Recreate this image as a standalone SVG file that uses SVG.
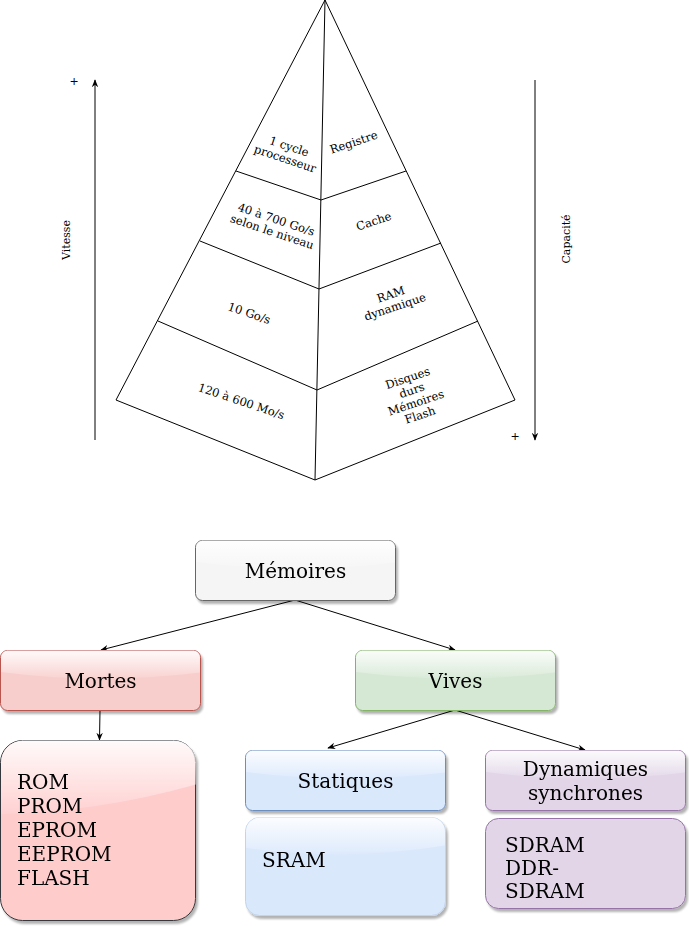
<svg xmlns="http://www.w3.org/2000/svg" width="689" height="926" viewBox="0 0 689 926">
<defs>
  <linearGradient id="glass" x1="0" y1="0" x2="0" y2="1">
    <stop offset="0" stop-color="#fff" stop-opacity="0.9"/>
    <stop offset="1" stop-color="#fff" stop-opacity="0.1"/>
  </linearGradient>
  <filter id="shadow" x="-10%" y="-10%" width="130%" height="130%">
    <feGaussianBlur in="SourceAlpha" stdDeviation="1.2"/>
    <feOffset dx="2" dy="3" result="b"/>
    <feComponentTransfer><feFuncA type="linear" slope="0.3"/></feComponentTransfer>
    <feMerge><feMergeNode/><feMergeNode in="SourceGraphic"/></feMerge>
  </filter>
  <marker id="arr" viewBox="0 0 10 10" refX="9" refY="5" markerWidth="8" markerHeight="8" orient="auto" markerUnits="userSpaceOnUse">
    <path d="M0,1 L10,5 L0,9 L3,5 Z" fill="#000"/>
  </marker>
</defs>
<style>
  .pl { fill: none; stroke: #000; stroke-width: 1; }
  .pt { font-family: "DejaVu Serif", serif; font-size: 11.5px; fill: #000; text-anchor: middle; }
  .st { font-family: "DejaVu Serif", serif; font-size: 11px; fill: #000; text-anchor: middle; }
  .nt { font-family: "DejaVu Serif", serif; font-size: 20px; fill: #000; text-anchor: middle; }
  .lt { font-family: "DejaVu Serif", serif; font-size: 20px; fill: #000; }
  .conn { fill: none; stroke: #000; stroke-width: 1; marker-end: url(#arr); }
</style>

<g id="pyramid">
  <path class="pl" d="M325,0 L116,400 L315,480 L515,400 Z"/>
  <path class="pl" d="M325,0 L315,480"/>
  <path class="pl" d="M236,171 L321,200 L406,171"/>
  <path class="pl" d="M200,241 L319,289 L441,243"/>
  <path class="pl" d="M158,321 L317,390 L478,321"/>
  <g transform="translate(287,153) rotate(18.5)">
    <text class="pt" x="0" y="-3">1 cycle</text>
    <text class="pt" x="0" y="10">processeur</text>
  </g>
  <text class="pt" transform="translate(355,146) rotate(-18.5)">Registre</text>
  <g transform="translate(274,226) rotate(18.5)">
    <text class="pt" x="0" y="-3">40 à 700 Go/s</text>
    <text class="pt" x="0" y="10">selon le niveau</text>
  </g>
  <text class="pt" transform="translate(375,225) rotate(-18.5)">Cache</text>
  <text class="pt" transform="translate(248,317) rotate(18.5)">10 Go/s</text>
  <g transform="translate(393,301) rotate(-18.5)">
    <text class="pt" x="0" y="-3">RAM</text>
    <text class="pt" x="0" y="10">dynamique</text>
  </g>
  <text class="pt" transform="translate(240,405) rotate(18.5)">120 à 600 Mo/s</text>
  <g transform="translate(414,397) rotate(-18.5)">
    <text class="pt" x="0" y="-16">Disques</text>
    <text class="pt" x="0" y="-3">durs</text>
    <text class="pt" x="0" y="10">Mémoires</text>
    <text class="pt" x="0" y="23">Flash</text>
  </g>
</g>

<g id="axes">
  <line class="conn" x1="95" y1="440" x2="95" y2="80"/>
  <line class="conn" x1="535" y1="80" x2="535" y2="440"/>
  <text class="st" x="74" y="85">+</text>
  <text class="st" x="515" y="440">+</text>
  <text class="st" transform="translate(70,240) rotate(-90)">Vitesse</text>
  <text class="st" transform="translate(570,239) rotate(-90)">Capacité</text>
</g>

<g id="connectors">
  <line class="conn" x1="295" y1="600" x2="101" y2="650"/>
  <line class="conn" x1="295" y1="600" x2="455" y2="650"/>
  <line class="conn" x1="100" y1="710" x2="99.5" y2="740"/>
  <line class="conn" x1="455" y1="710" x2="328" y2="748"/>
  <line class="conn" x1="455" y1="710" x2="585" y2="750"/>
</g>

<g id="memoires" filter="url(#shadow)">
  <rect x="195.5" y="540.5" width="200" height="60" rx="7" fill="#f5f5f5" stroke="#666666"/>
  <path d="M196,547.5 a7,7 0 0 1 7,-7 h185 a7,7 0 0 1 7,7 v15 Q295,575 196,562 Z" fill="url(#glass)"/>
  <text class="nt" x="295.5" y="578">Mémoires</text>
</g>

<g id="mortes" filter="url(#shadow)">
  <rect x="0.5" y="650.5" width="200" height="60" rx="7" fill="#f8cecc" stroke="#b85450"/>
  <path d="M1,657.5 a7,7 0 0 1 7,-7 h185 a7,7 0 0 1 7,7 v15 Q100,685 1,672 Z" fill="url(#glass)"/>
  <text class="nt" x="100.5" y="688">Mortes</text>
</g>

<g id="vives" filter="url(#shadow)">
  <rect x="355.5" y="650.5" width="200" height="60" rx="7" fill="#d5e8d4" stroke="#82b366"/>
  <path d="M356,657.5 a7,7 0 0 1 7,-7 h185 a7,7 0 0 1 7,7 v15 Q455,685 356,672 Z" fill="url(#glass)"/>
  <text class="nt" x="455.5" y="688">Vives</text>
</g>

<g id="rom" filter="url(#shadow)">
  <rect x="0.5" y="740.5" width="195" height="180" rx="22" fill="#ffcccc" stroke="#36393d"/>
  <path d="M1,762.5 a22,22 0 0 1 22,-22 h151 a22,22 0 0 1 22,22 v22 Q98,812 1,814 Z" fill="url(#glass)"/>
  <text class="lt" x="17" y="789">ROM</text>
  <text class="lt" x="17" y="813">PROM</text>
  <text class="lt" x="17" y="837">EPROM</text>
  <text class="lt" x="17" y="861">EEPROM</text>
  <text class="lt" x="17" y="885">FLASH</text>
</g>

<g id="statiques" filter="url(#shadow)">
  <rect x="245.5" y="750.5" width="200" height="60" rx="7" fill="#dae8fc" stroke="#6c8ebf"/>
  <path d="M246,757.5 a7,7 0 0 1 7,-7 h185 a7,7 0 0 1 7,7 v15 Q345,785 246,772 Z" fill="url(#glass)"/>
  <text class="nt" x="345.5" y="788">Statiques</text>
</g>

<g id="sram" filter="url(#shadow)">
  <rect x="245.5" y="817.5" width="200" height="98" rx="14" fill="#dae8fc" stroke="#c3d3ea"/>
  <path d="M246,831.5 a14,14 0 0 1 14,-14 h171 a14,14 0 0 1 14,14 v14 Q345,862 246,848 Z" fill="url(#glass)"/>
  <text class="lt" x="262" y="867">SRAM</text>
</g>

<g id="dynamiques" filter="url(#shadow)">
  <rect x="485.5" y="750.5" width="200" height="60" rx="7" fill="#e1d5e7" stroke="#9673a6"/>
  <path d="M486,757.5 a7,7 0 0 1 7,-7 h185 a7,7 0 0 1 7,7 v15 Q585,785 486,772 Z" fill="url(#glass)"/>
  <text class="nt" x="585.5" y="776">Dynamiques</text>
  <text class="nt" x="585.5" y="800">synchrones</text>
</g>

<g id="sdram" filter="url(#shadow)">
  <rect x="485.5" y="818.5" width="200" height="90" rx="13" fill="#e1d5e7" stroke="#9673a6"/>
  <text class="lt" x="505" y="852">SDRAM</text>
  <text class="lt" x="505" y="875">DDR-</text>
  <text class="lt" x="505" y="898">SDRAM</text>
</g>
</svg>
